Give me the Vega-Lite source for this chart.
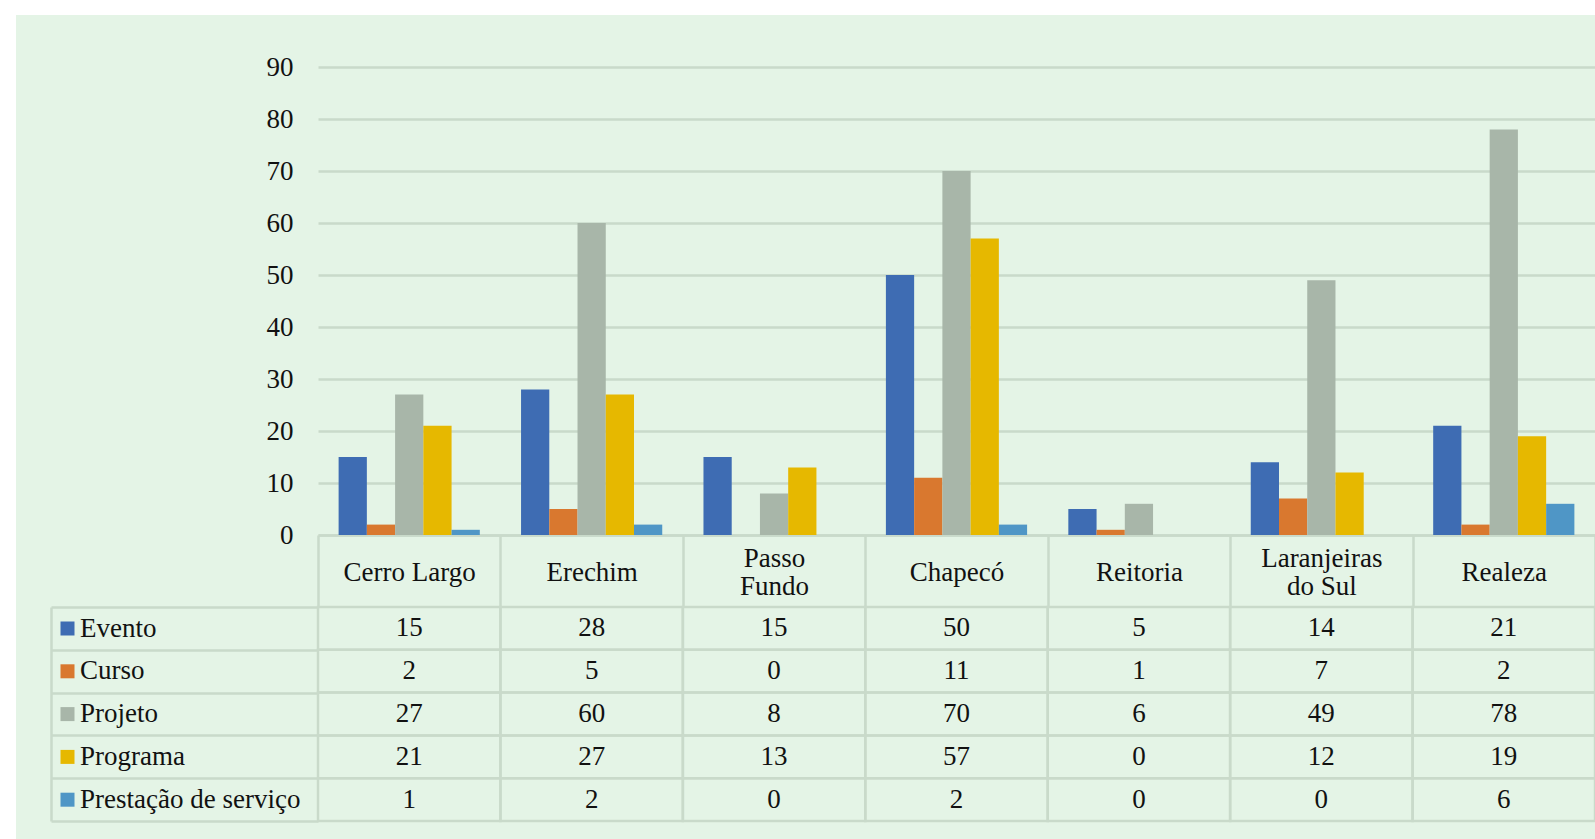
{
  "$schema": "https://vega.github.io/schema/vega-lite/v6.json",
  "width": 1579,
  "height": 824,
  "autosize": {"type": "none"},
  "padding": {"left": 16, "top": 15, "right": 0, "bottom": 0},
  "background": "#ffffff",
  "config": {
    "view": {"fill": "#E4F4E6", "stroke": null},
    "font": "Liberation Serif"
  },
  "data": {
    "values": [
      {"campus": "Cerro Largo", "serie": "Evento", "value": 15},
      {"campus": "Cerro Largo", "serie": "Curso", "value": 2},
      {"campus": "Cerro Largo", "serie": "Projeto", "value": 27},
      {"campus": "Cerro Largo", "serie": "Programa", "value": 21},
      {"campus": "Cerro Largo", "serie": "Prestação de serviço", "value": 1},
      {"campus": "Erechim", "serie": "Evento", "value": 28},
      {"campus": "Erechim", "serie": "Curso", "value": 5},
      {"campus": "Erechim", "serie": "Projeto", "value": 60},
      {"campus": "Erechim", "serie": "Programa", "value": 27},
      {"campus": "Erechim", "serie": "Prestação de serviço", "value": 2},
      {"campus": "Passo Fundo", "serie": "Evento", "value": 15},
      {"campus": "Passo Fundo", "serie": "Curso", "value": 0},
      {"campus": "Passo Fundo", "serie": "Projeto", "value": 8},
      {"campus": "Passo Fundo", "serie": "Programa", "value": 13},
      {"campus": "Passo Fundo", "serie": "Prestação de serviço", "value": 0},
      {"campus": "Chapecó", "serie": "Evento", "value": 50},
      {"campus": "Chapecó", "serie": "Curso", "value": 11},
      {"campus": "Chapecó", "serie": "Projeto", "value": 70},
      {"campus": "Chapecó", "serie": "Programa", "value": 57},
      {"campus": "Chapecó", "serie": "Prestação de serviço", "value": 2},
      {"campus": "Reitoria", "serie": "Evento", "value": 5},
      {"campus": "Reitoria", "serie": "Curso", "value": 1},
      {"campus": "Reitoria", "serie": "Projeto", "value": 6},
      {"campus": "Reitoria", "serie": "Programa", "value": 0},
      {"campus": "Reitoria", "serie": "Prestação de serviço", "value": 0},
      {"campus": "Laranjeiras do Sul", "serie": "Evento", "value": 14},
      {"campus": "Laranjeiras do Sul", "serie": "Curso", "value": 7},
      {"campus": "Laranjeiras do Sul", "serie": "Projeto", "value": 49},
      {"campus": "Laranjeiras do Sul", "serie": "Programa", "value": 12},
      {"campus": "Laranjeiras do Sul", "serie": "Prestação de serviço", "value": 0},
      {"campus": "Realeza", "serie": "Evento", "value": 21},
      {"campus": "Realeza", "serie": "Curso", "value": 2},
      {"campus": "Realeza", "serie": "Projeto", "value": 78},
      {"campus": "Realeza", "serie": "Programa", "value": 19},
      {"campus": "Realeza", "serie": "Prestação de serviço", "value": 6}
    ]
  },
  "resolve": {"scale": {"y": "independent"}, "axis": {"y": "independent"}},
  "layer": [
    {
      "mark": {"type": "bar"},
      "encoding": {
        "x": {
          "field": "campus", "type": "nominal",
          "sort": ["Cerro Largo", "Erechim", "Passo Fundo", "Chapecó", "Reitoria", "Laranjeiras do Sul", "Realeza"],
          "scale": {"range": [302, 1579], "paddingInner": 0, "paddingOuter": 0},
          "title": null,
          "axis": {
            "orient": "bottom", "offset": -304, "domain": true, "domainColor": "#C9DACA", "domainWidth": 2.5,
            "ticks": true, "tickBand": "extent", "tickSize": 72, "tickColor": "#C9DACA", "tickWidth": 2.5,
            "grid": false, "labelAngle": 0, "labelBaseline": "middle",
            "labelPadding": {"condition": {"test": "datum.value == 'Passo Fundo' || datum.value == 'Laranjeiras do Sul'", "value": -49}, "value": -35},
            "labelFont": "Liberation Serif", "labelFontSize": 27, "labelColor": "#111111", "labelLimit": 0,
            "labelLineHeight": 28, "labelOverlap": false,
            "labelExpr": "datum.label == 'Passo Fundo' ? ['Passo', 'Fundo'] : datum.label == 'Laranjeiras do Sul' ? ['Laranjeiras', 'do Sul'] : datum.label"
          }
        },
        "xOffset": {
          "field": "serie", "type": "nominal",
          "sort": ["Evento", "Curso", "Projeto", "Programa", "Prestação de serviço"],
          "scale": {"paddingInner": 0, "paddingOuter": 0.73}
        },
        "y": {
          "field": "value", "type": "quantitative",
          "scale": {"domain": [0, 90], "range": [520, 52], "nice": false, "zero": true},
          "title": null,
          "axis": {
            "orient": "left", "offset": -302, "domain": false, "grid": false,
            "values": [0, 10, 20, 30, 40, 50, 60, 70, 80, 90],
            "ticks": true, "tickSize": -1277, "tickColor": "#C9DACA", "tickWidth": 2.5,
            "labelPadding": 1302, "labelAlign": "right", "labelBaseline": "middle",
            "labelFont": "Liberation Serif", "labelFontSize": 27, "labelColor": "#111111"
          }
        },
        "color": {
          "field": "serie", "type": "nominal",
          "sort": ["Evento", "Curso", "Projeto", "Programa", "Prestação de serviço"],
          "scale": {
            "domain": ["Evento", "Curso", "Projeto", "Programa", "Prestação de serviço"],
            "range": ["#3E6CB3", "#D9782F", "#A8B6A9", "#E6B800", "#4F96C6"]
          },
          "legend": {
            "orient": "none", "legendX": 38, "legendY": 600, "title": null,
            "symbolType": "square", "symbolSize": 196, "symbolStrokeWidth": 0,
            "labelFont": "Liberation Serif", "labelFontSize": 27, "labelColor": "#111111",
            "labelOffset": -1, "rowPadding": 14.8, "padding": 0, "labelLimit": 0
          }
        }
      }
    },
    {
      "layer": [
        {
          "mark": {"type": "rect", "fill": "transparent", "stroke": "#C9DACA", "strokeWidth": 2.5},
          "encoding": {}
        },
        {
          "mark": {"type": "text", "font": "Liberation Serif", "fontSize": 27, "color": "#111111", "align": "center", "baseline": "middle"},
          "encoding": {"text": {"field": "value", "type": "quantitative"}}
        }
      ],
      "encoding": {
        "x": {
          "field": "campus", "type": "nominal",
          "sort": ["Cerro Largo", "Erechim", "Passo Fundo", "Chapecó", "Reitoria", "Laranjeiras do Sul", "Realeza"],
          "scale": {"range": [302, 1579], "paddingInner": 0, "paddingOuter": 0},
          "title": null,
          "axis": {
            "orient": "bottom", "offset": -304, "domain": true, "domainColor": "#C9DACA", "domainWidth": 2.5,
            "ticks": true, "tickBand": "extent", "tickSize": 72, "tickColor": "#C9DACA", "tickWidth": 2.5,
            "grid": false, "labelAngle": 0, "labelBaseline": "middle",
            "labelPadding": {"condition": {"test": "datum.value == 'Passo Fundo' || datum.value == 'Laranjeiras do Sul'", "value": -49}, "value": -35},
            "labelFont": "Liberation Serif", "labelFontSize": 27, "labelColor": "#111111", "labelLimit": 0,
            "labelLineHeight": 28, "labelOverlap": false,
            "labelExpr": "datum.label == 'Passo Fundo' ? ['Passo', 'Fundo'] : datum.label == 'Laranjeiras do Sul' ? ['Laranjeiras', 'do Sul'] : datum.label"
          }
        },
        "y": {
          "field": "serie", "type": "nominal",
          "sort": ["Evento", "Curso", "Projeto", "Programa", "Prestação de serviço"],
          "scale": {"range": [592, 806], "paddingInner": 0, "paddingOuter": 0},
          "title": null,
          "axis": {
            "orient": "left", "offset": -35, "domain": true, "domainColor": "#C9DACA", "domainWidth": 2.5,
            "ticks": true, "tickBand": "extent", "tickSize": -267, "tickColor": "#C9DACA", "tickWidth": 2.5,
            "grid": false, "labels": false
          }
        }
      }
    }
  ]
}
